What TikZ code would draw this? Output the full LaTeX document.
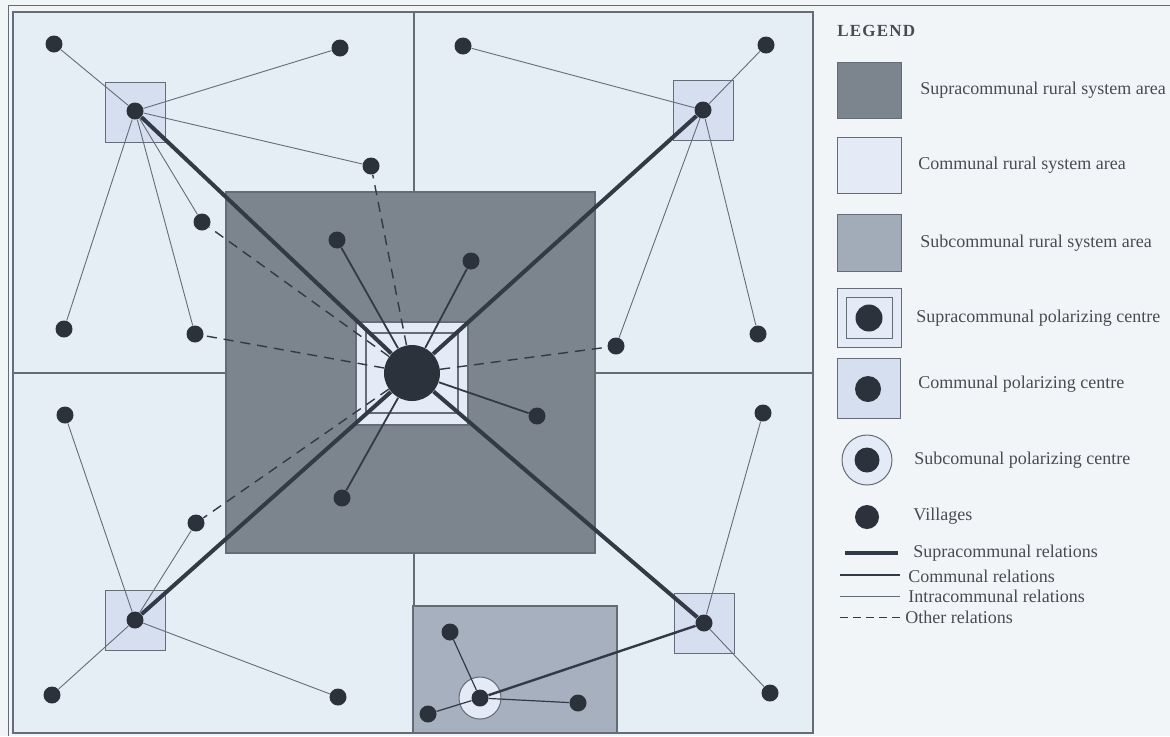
\documentclass[tikz,border=0pt]{standalone}
\usepackage{fontspec}
\setmainfont{Liberation Serif}

\definecolor{paper}{RGB}{242,245,248}
\definecolor{quadfill}{RGB}{229,237,245}
\definecolor{commfill}{RGB}{214,223,240}
\definecolor{suprafill}{RGB}{124,132,142}
\definecolor{subfill}{RGB}{166,176,190}
\definecolor{centrefill}{RGB}{228,235,247}
\definecolor{dotcol}{RGB}{44,50,60}
\definecolor{edgecol}{RGB}{100,108,120}
\definecolor{relcol}{RGB}{50,58,70}
\definecolor{textcol}{RGB}{72,76,82}

\begin{document}
\begin{tikzpicture}[x=0.5pt,y=-0.5pt,
  village/.style={circle,fill=dotcol,inner sep=0pt,minimum size=8.5pt},
  hubdot/.style={circle,fill=dotcol,inner sep=0pt,minimum size=28pt},
  commsq/.style={rectangle,draw=edgecol,line width=0.5pt,fill=commfill,inner sep=0pt,minimum size=30pt},
  subring/.style={circle,draw=edgecol,line width=0.5pt,fill=centrefill,inner sep=0pt,minimum size=21pt},
  supra/.style={line width=2pt,draw=relcol},
  comm/.style={line width=0.9pt,draw=relcol},
  intra/.style={line width=0.45pt,draw=edgecol},
  other/.style={line width=0.7pt,draw=relcol,dash pattern=on 5pt off 3.5pt},
  lbl/.style={anchor=west,inner sep=0pt,text=textcol,font=\fontsize{9}{10}\selectfont}]

\useasboundingbox (0,0) rectangle (1170,736);
\fill[paper] (0,0) rectangle (1170,736);

% outer frame
\draw[edgecol,line width=0.5pt] (8,736) -- (8,5) -- (1170,5);

% quadrants
\filldraw[fill=quadfill,draw=edgecol,line width=0.6pt] (13,12) rectangle (813,733);
\draw[edgecol,line width=0.6pt] (414,12) -- (414,733) (13,373) -- (813,373);

% supracommunal area
\filldraw[fill=suprafill,draw=edgecol,line width=0.6pt] (226,192) rectangle (595,553);

% subcommunal area
\filldraw[fill=subfill,draw=edgecol,line width=0.6pt] (413,606) rectangle (617,733);

% centre square
\filldraw[fill=centrefill,draw=edgecol,line width=0.6pt] (356,322) rectangle (468,425);
\draw[edgecol,line width=0.6pt] (366,333) rectangle (458,413);

% communal squares
\node[commsq] (sqNW) at (135,112) {};
\node[commsq] (sqNE) at (703,110) {};
\node[commsq] (sqSW) at (135,620) {};
\node[commsq] (sqSE) at (704,623) {};
\node[subring] (ring) at (480,698) {};

% centres
\node[hubdot] (hub) at (412,373) {};
\node[village] (cNW) at (135,111) {};
\node[village] (cNE) at (703,110) {};
\node[village] (cSW) at (135,620) {};
\node[village] (cSE) at (704,623) {};
\node[village] (sub) at (480,698) {};

% villages
\node[village] (nw1) at (54,44) {};
\node[village] (nw2) at (340,48) {};
\node[village] (nw3) at (371,166) {};
\node[village] (nw4) at (202,222) {};
\node[village] (nw5) at (337,240) {};
\node[village] (nw6) at (64,329) {};
\node[village] (nw7) at (195,334) {};
\node[village] (ne1) at (463,46) {};
\node[village] (ne2) at (766,45) {};
\node[village] (ne3) at (471,261) {};
\node[village] (ne4) at (616,346) {};
\node[village] (ne5) at (758,334) {};
\node[village] (sw1) at (65,415) {};
\node[village] (sw2) at (196,523) {};
\node[village] (sw3) at (342,498) {};
\node[village] (sw4) at (52,695) {};
\node[village] (sw5) at (338,697) {};
\node[village] (se1) at (537,416) {};
\node[village] (se2) at (763,413) {};
\node[village] (se3) at (770,693) {};
\node[village] (sb1) at (450,632) {};
\node[village] (sb2) at (428,714) {};
\node[village] (sb3) at (578,703) {};

% relations
\foreach \v in {nw1,nw2,nw3,nw4,nw6,nw7} \draw[intra] (cNW) -- (\v);
\foreach \v in {ne1,ne2,ne4,ne5} \draw[intra] (cNE) -- (\v);
\foreach \v in {sw1,sw2,sw4,sw5} \draw[intra] (cSW) -- (\v);
\foreach \v in {se2,se3} \draw[intra] (cSE) -- (\v);
\foreach \v in {sb1,sb2,sb3} \draw[intra,draw=relcol,line width=0.6pt] (sub) -- (\v);
\foreach \v in {nw5,ne3,se1,sw3} \draw[comm] (hub) -- (\v);
\draw[comm,line width=1.2pt] (cSE) -- (sub);
\foreach \v in {cNW,cNE,cSW,cSE} \draw[supra] (hub) -- (\v);
\foreach \v in {nw3,nw4,nw7,ne4,sw2} \draw[other] (hub) -- (\v);

% legend
\node[lbl,font=\fontsize{8.5}{10}\selectfont\bfseries] (lgTitle) at (837,31) {L\kern0.6pt E\kern0.6pt G\kern0.6pt E\kern0.6pt N\kern0.6pt D};

\filldraw[fill=suprafill,draw=edgecol,line width=0.5pt] (837,62) rectangle (901,118);
\node[lbl] (lgA) at (920,90) {Supracommunal rural system area};

\filldraw[fill=centrefill,draw=edgecol,line width=0.5pt] (837,137) rectangle (901,193);
\node[lbl] (lgB) at (918,165) {Communal rural system area};

\filldraw[fill=subfill!90!gray,draw=edgecol,line width=0.5pt] (837,214) rectangle (901,271);
\node[lbl] (lgC) at (920,243) {Subcommunal rural system area};

\filldraw[fill=centrefill,draw=edgecol,line width=0.5pt] (837,288) rectangle (901,347);
\draw[edgecol,line width=0.5pt] (846,297) rectangle (892,338);
\node[village,minimum size=13.5pt] (lgDdot) at (869,318) {};
\node[lbl] (lgD) at (916,318) {Supracommunal polarizing centre};

\filldraw[fill=commfill,draw=edgecol,line width=0.5pt] (837,358) rectangle (900,418);
\node[village,minimum size=13pt] (lgEdot) at (868,389) {};
\node[lbl] (lgE) at (918,384) {Communal polarizing centre};

\node[subring,minimum size=25pt] (lgFring) at (867,460) {};
\node[village,minimum size=12.5pt] (lgFdot) at (867,460) {};
\node[lbl] (lgF) at (914,460) {Subcomunal polarizing centre};

\node[village,minimum size=12pt] (lgGdot) at (867,517) {};
\node[lbl] (lgG) at (913,516) {Villages};

\draw[supra] (845,553) -- (898,553);
\node[lbl] (lgH) at (913,553) {Supracommunal relations};
\draw[comm] (840,575) -- (900,575);
\node[lbl] (lgI) at (908,576) {Communal relations};
\draw[intra] (840,596) -- (900,596);
\node[lbl] (lgJ) at (908,596) {Intracommunal relations};
\draw[other,line width=0.5pt,dash pattern=on 4pt off 2.5pt] (840,617) -- (900,617);
\node[lbl] (lgK) at (905,617) {Other relations};

\end{tikzpicture}
\end{document}
